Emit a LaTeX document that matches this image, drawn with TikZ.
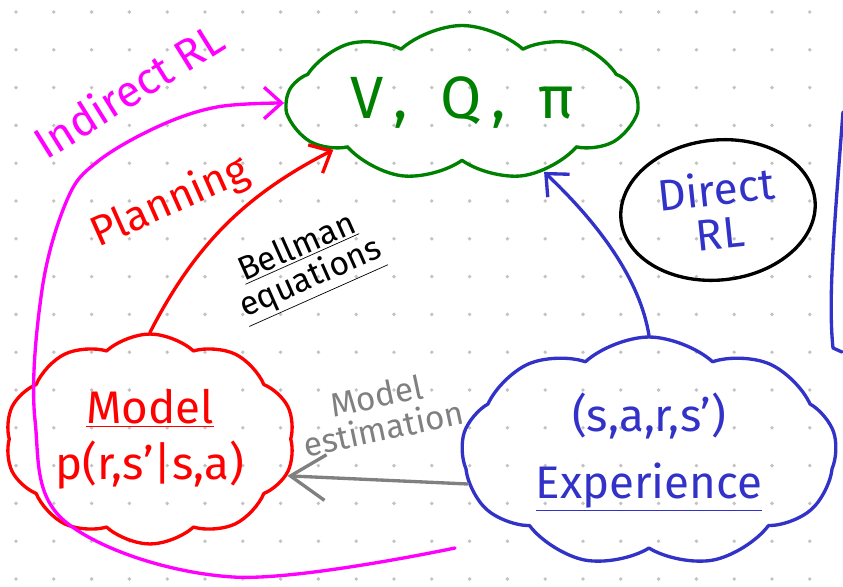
\documentclass[tikz,border=0pt]{standalone}
\usepackage{fontspec}
\setmainfont{Fira Sans}
\usetikzlibrary{shapes.symbols,shapes.geometric,arrows.meta}
\definecolor{vgreen}{RGB}{0,128,0}
\definecolor{expblue}{RGB}{50,50,200}
\definecolor{indpink}{RGB}{255,0,255}
\definecolor{dotgray}{RGB}{195,195,195}
\tikzset{
  ink/.style={line width=1.9pt, line cap=round, line join=round},
  head/.style={-{Straight Barb[length=10pt,width=18pt]}},
  bighead/.style={-{Straight Barb[length=20pt,width=26pt]}},
  blob/.style={cloud, cloud puffs=#1, cloud puff arc=85, cloud ignores aspect, ink, inner sep=0pt, align=center},
  hand/.style={font=\fontsize{#1}{#1}\selectfont}
}
\begin{document}
\begin{tikzpicture}[x=0.02cm,y=-0.02cm]
\useasboundingbox (0,0) rectangle (843,586);
% dotted paper
\foreach \i in {0,...,21}
  \foreach \j in {0,...,15}
    \fill[dotgray] (16+37.8*\i,12+37.8*\j) circle[radius=1.1pt];

% the three clouds
\node[blob=9, draw=vgreen, text=vgreen, minimum width=7cm, minimum height=3.1cm, hand=34] (vqp) at (462,103) {V\,,\; Q\,,\; π};
\node[blob=10, draw=red, text=red, minimum width=5.8cm, minimum height=4.2cm, hand=26] (model) at (150,439) {\underline{Model}\\[6pt]p(r,s'|s,a)};
\node[blob=9, draw=expblue, text=expblue, minimum width=7.5cm, minimum height=4.6cm, hand=26] (exp) at (649,452) {(s,a,r,s')\\[12pt]\underline{Experience}};
\node[ellipse, draw, ink, rotate=6, minimum width=3.9cm, minimum height=2.8cm, text=expblue, align=center, hand=25] (direct) at (718,210) {Direct\\RL};

% labels
\node[rotate=32, text=indpink, hand=25] (indirect) at (128,90) {Indirect RL};
\node[rotate=24, text=red, hand=24] (planning) at (170,203) {Planning};
\node[rotate=24, align=center, hand=19] (bellman) at (305,265) {\underline{Bellman}\\\underline{equations}};
\node[rotate=12, text=gray, align=center, hand=19] (estim) at (380,412) {Model\\estimation};

% arrows
\coordinate (loopstart) at (455,548);
\draw[ink, indpink, head] plot[smooth, tension=.6] coordinates
  {(loopstart) (233,577) (67,523) (35,420) (42,290) (67,200) (97,162) (157,127) (217,107) (vqp.west)};
\draw[ink, red, head] (model.north) .. controls (195,245) and (245,195) .. (vqp.200);
\draw[ink, expblue, head] (exp.north) .. controls (640,280) and (600,225) .. (vqp.320);
\draw[ink, gray, bighead] (exp.190) -- (model.345);
\draw[ink, expblue] (843,112) .. controls (834,230) and (828,300) .. (833,348) -- (842,352);
\end{tikzpicture}
\end{document}
